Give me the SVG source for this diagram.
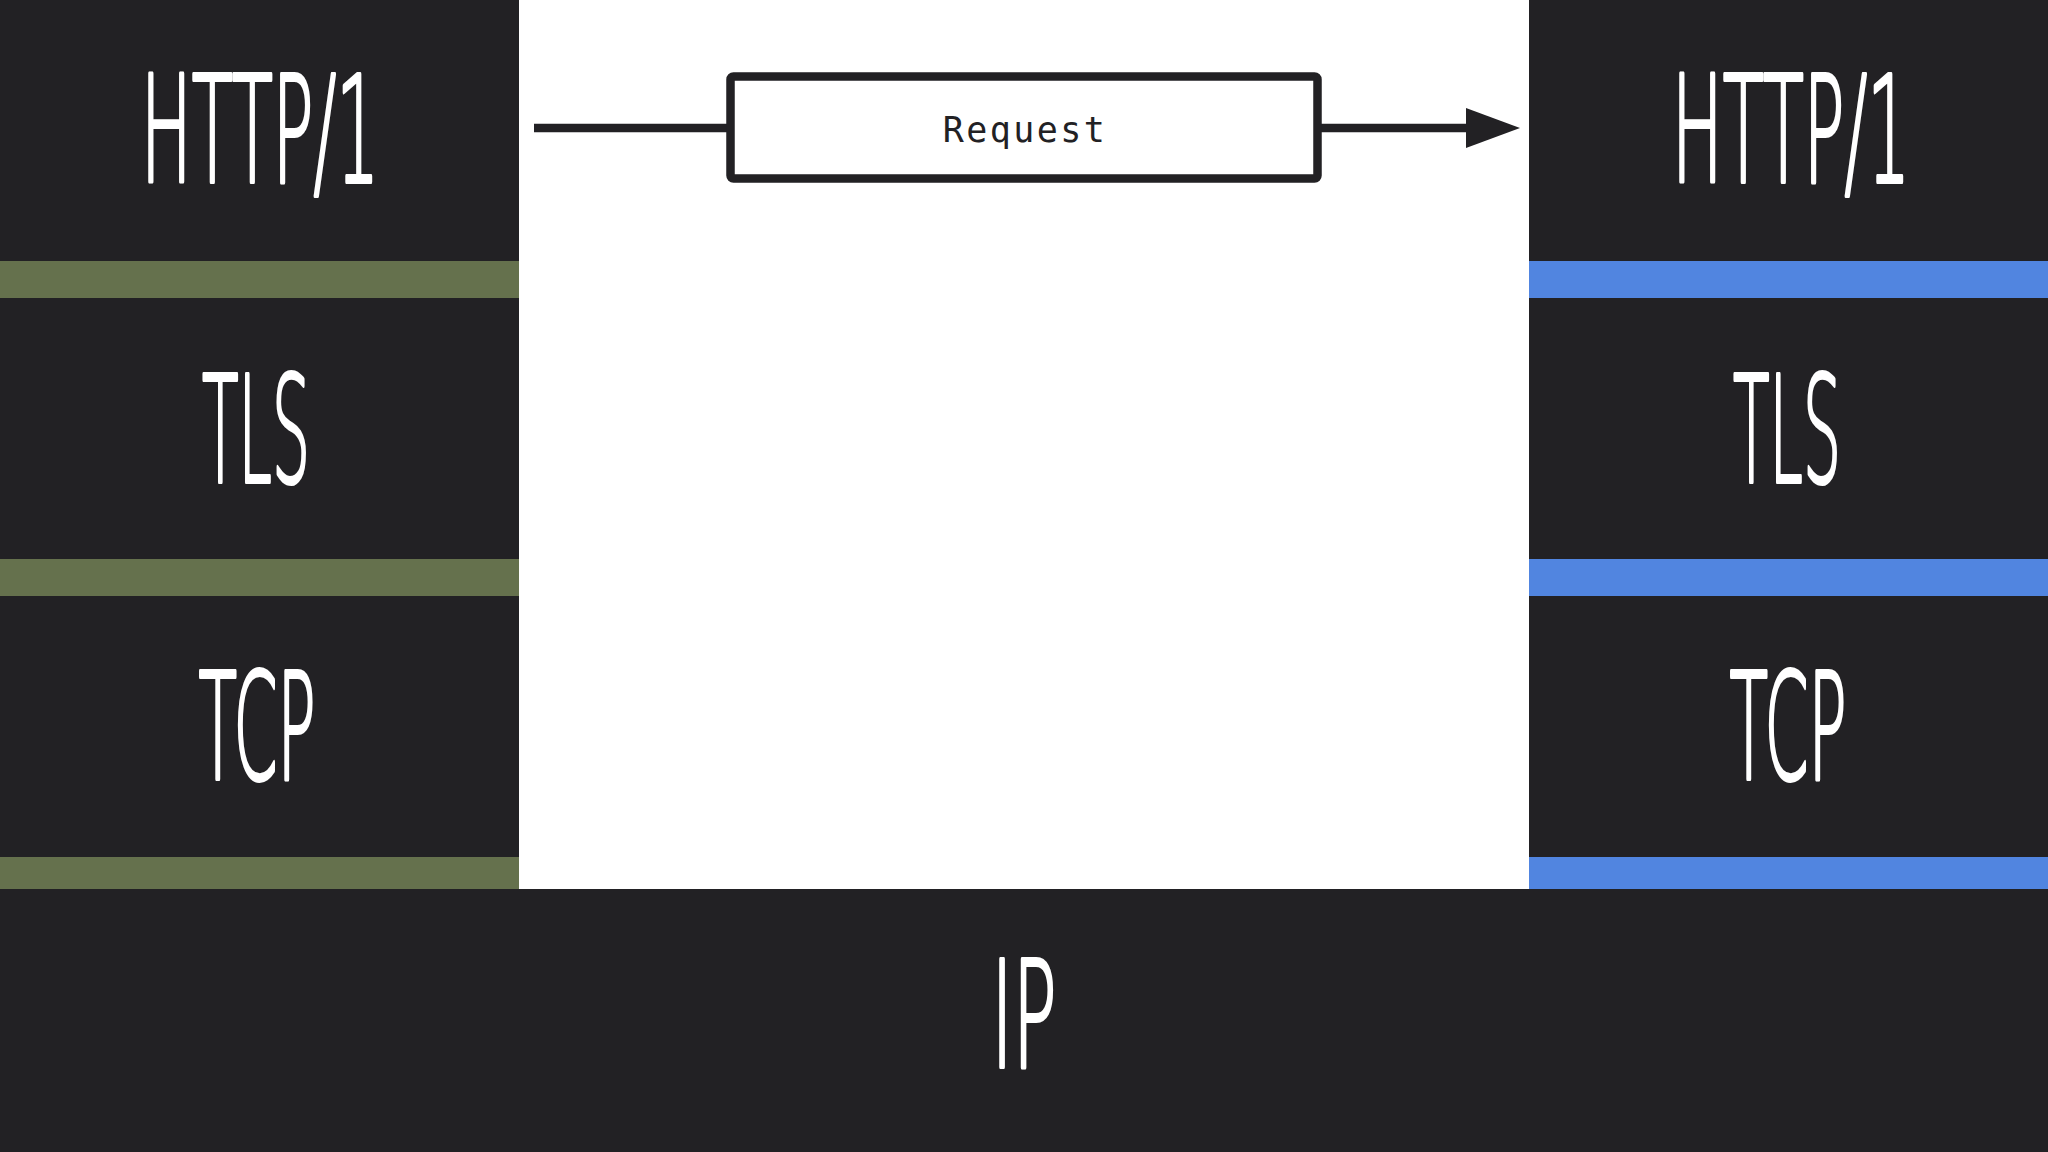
<svg xmlns="http://www.w3.org/2000/svg" width="2048" height="1152" viewBox="0 0 2048 1152">
  <style>
    .dark { fill: #222124; }
    .green { fill: #65714D; }
    .blue { fill: #5185E0; }
    .layer { font-family: "DejaVu Sans", "Liberation Sans", sans-serif; font-weight: 200; font-size: 148px; fill: #FFFFFF; stroke: #FFFFFF; stroke-width: 4px; stroke-linejoin: round; text-anchor: middle; }
    .req { font-family: "DejaVu Sans Mono", "Liberation Mono", monospace; font-size: 35px; letter-spacing: 2.4px; fill: #222124; text-anchor: middle; }
  </style>
  <defs>
    <marker id="arrow" viewBox="0 0 54 40" refX="0" refY="20" markerWidth="54" markerHeight="40" markerUnits="userSpaceOnUse" orient="auto">
      <path d="M0,0 L54,20 L0,40 Z" fill="#222124"/>
    </marker>
  </defs>
  <rect x="0" y="0" width="2048" height="1152" fill="#FFFFFF"/>

  <g id="left-stack">
    <g id="left-http">
      <rect class="dark" x="0" y="0" width="519" height="261"/>
      <text class="layer" transform="translate(260,182) scale(0.4,1)" x="0" y="0" textLength="595" lengthAdjust="spacingAndGlyphs">HTTP/1</text>
    </g>
    <rect class="green" x="0" y="261" width="519" height="37"/>
    <g id="left-tls">
      <rect class="dark" x="0" y="298" width="519" height="261"/>
      <text class="layer" transform="translate(256,482) scale(0.4,1)" x="0" y="0" textLength="270" lengthAdjust="spacingAndGlyphs">TLS</text>
    </g>
    <rect class="green" x="0" y="559" width="519" height="37"/>
    <g id="left-tcp">
      <rect class="dark" x="0" y="596" width="519" height="261"/>
      <text class="layer" transform="translate(257,779) scale(0.4,1)" x="0" y="0" textLength="292" lengthAdjust="spacingAndGlyphs">TCP</text>
    </g>
    <rect class="green" x="0" y="857" width="519" height="32"/>
  </g>

  <g id="right-stack">
    <g id="right-http">
      <rect class="dark" x="1529" y="0" width="519" height="261"/>
      <text class="layer" transform="translate(1791,182) scale(0.4,1)" x="0" y="0" textLength="595" lengthAdjust="spacingAndGlyphs">HTTP/1</text>
    </g>
    <rect class="blue" x="1529" y="261" width="519" height="37"/>
    <g id="right-tls">
      <rect class="dark" x="1529" y="298" width="519" height="261"/>
      <text class="layer" transform="translate(1787,482) scale(0.4,1)" x="0" y="0" textLength="270" lengthAdjust="spacingAndGlyphs">TLS</text>
    </g>
    <rect class="blue" x="1529" y="559" width="519" height="37"/>
    <g id="right-tcp">
      <rect class="dark" x="1529" y="596" width="519" height="261"/>
      <text class="layer" transform="translate(1788,779) scale(0.4,1)" x="0" y="0" textLength="292" lengthAdjust="spacingAndGlyphs">TCP</text>
    </g>
    <rect class="blue" x="1529" y="857" width="519" height="32"/>
  </g>

  <g id="ip">
    <rect class="dark" x="0" y="889" width="2048" height="263"/>
    <text class="layer" transform="translate(1024,1067) scale(0.4,1)" x="0" y="0" textLength="162" lengthAdjust="spacingAndGlyphs">IP</text>
  </g>

  <g id="connectors" stroke="#222124" stroke-width="8.5" fill="none">
    <line x1="534" y1="128" x2="731" y2="128"/>
    <line x1="1318" y1="128" x2="1466" y2="128" marker-end="url(#arrow)"/>
  </g>

  <g id="request">
    <rect x="730.5" y="76.5" width="587" height="102" rx="3" fill="#FFFFFF" stroke="#222124" stroke-width="8.5"/>
    <text class="req" x="1025" y="142">Request</text>
  </g>
</svg>
